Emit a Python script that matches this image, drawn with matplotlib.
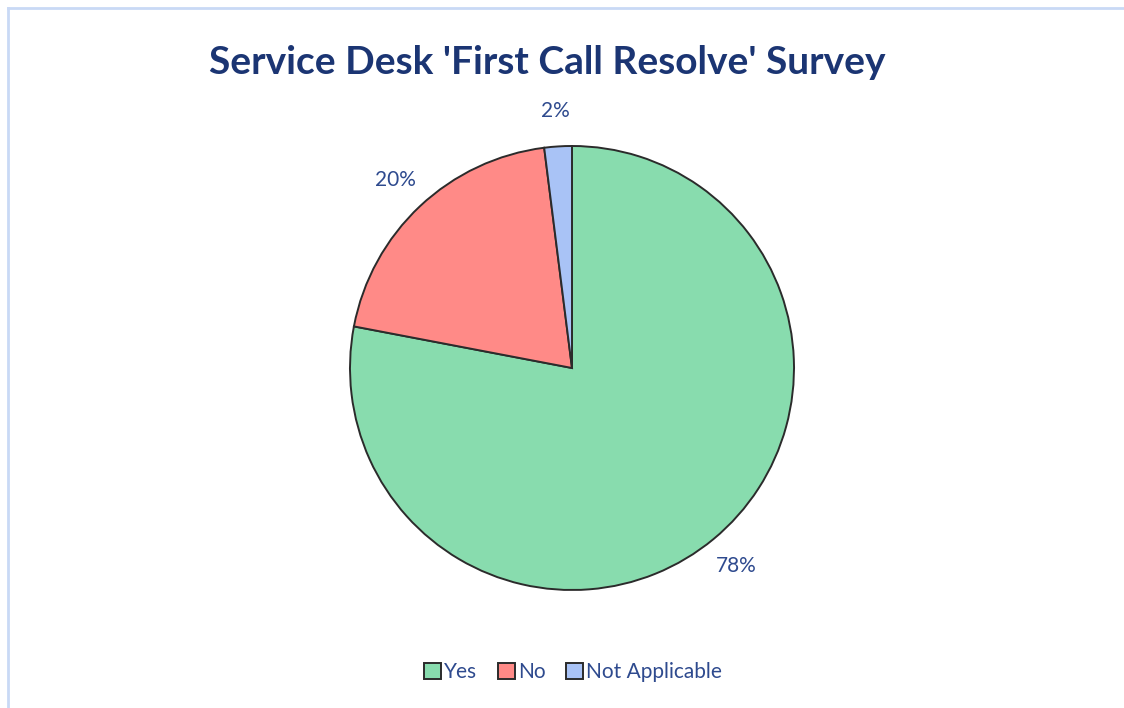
import matplotlib
matplotlib.use("Agg")
import matplotlib.pyplot as plt
from matplotlib.lines import Line2D

plt.rcParams['font.family'] = ['Lato', 'DejaVu Sans']

labels = ["Yes", "No", "Not Applicable"]
values = [78, 20, 2]
colors = ["#88dcae", "#ff8a87", "#a9c3f6"]
text_col = "#2e4a8e"
title_col = "#1b3573"

fig = plt.figure(figsize=(11.24, 7.08), dpi=100)
fig.patch.set_facecolor("white")

# light blue frame (only top and left edges visible in the crop)
fig.add_artist(Line2D([8/1124, 1], [1 - 8/708, 1 - 8/708], color="#c9d9f5", lw=2))
fig.add_artist(Line2D([8/1124, 8/1124], [0, 1 - 8/708], color="#c9d9f5", lw=2))

ax = fig.add_axes([350/1124, 118/708, 444/1124, 444/708])
wedges, texts, autotexts = ax.pie(
    values, colors=colors, startangle=90, counterclock=False,
    autopct="%d%%", pctdistance=1.16,
    wedgeprops=dict(edgecolor="#2b2b2b", linewidth=1.4),
    textprops=dict(color=text_col, fontsize=15))
ax.set_xlim(-1, 1)
ax.set_ylim(-1, 1)
ax.set_aspect("equal")

fig.text(0.487, 1 - 62/708, "Service Desk 'First Call Resolve' Survey",
         ha="center", va="center", fontsize=28, fontweight="bold", color=title_col)

leg = fig.legend(wedges, labels, loc="center", bbox_to_anchor=(0.51, 1 - 672/708),
                 ncol=3, frameon=False, handlelength=0.8, handleheight=0.8,
                 handletextpad=0.15, columnspacing=1.0, fontsize=15)
for t in leg.get_texts():
    t.set_color(text_col)

fig.savefig("out.png", dpi=100)
